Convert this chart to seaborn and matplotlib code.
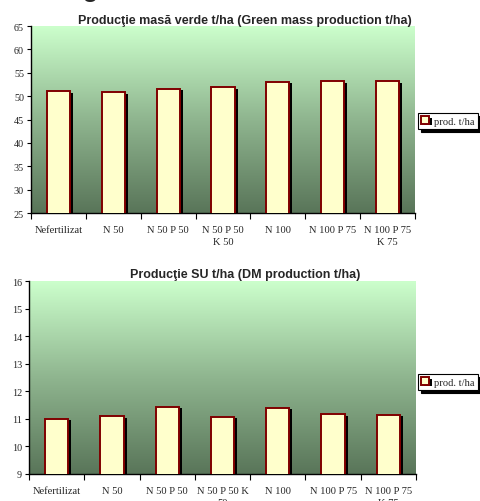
import numpy as np
import pandas as pd
import matplotlib
matplotlib.use("Agg")
import matplotlib.pyplot as plt
import matplotlib.patheffects as pe
from matplotlib.colors import LinearSegmentedColormap
import seaborn as sns

# Treatments (x categories) for each chart
treatments_gm = ["Nefertilizat", "N 50", "N 50 P 50", "N 50 P 50\nK 50",
                 "N 100", "N 100 P 75", "N 100 P 75\nK 75"]
treatments_dm = ["Nefertilizat", "N 50", "N 50 P 50", "N 50 P 50 K\n50",
                 "N 100", "N 100 P 75", "N 100 P 75\nK 75"]

# Green mass production, t/ha
green_mass = [51.0, 50.8, 51.6, 51.9, 53.0, 53.2, 53.2]
# Dry matter production, t/ha
dry_matter = [11.0, 11.1, 11.44, 11.07, 11.4, 11.17, 11.15]

title_gm = "Producţie masă verde t/ha (Green mass production t/ha)"
title_dm = "Producţie SU t/ha (DM production t/ha)"
series_name = "prod. t/ha"

sns.set_theme(style="white")
plt.rcParams["font.family"] = ["Liberation Serif", "DejaVu Serif"]

BAR_FACE = "#FFFFCC"
BAR_EDGE = "#800000"
bg_cmap = LinearSegmentedColormap.from_list(
    "bg", ["#597559", "#8fb58f", "#CCFFCC"])

fig = plt.figure(figsize=(4.8, 5.02), dpi=100)
fig.patch.set_facecolor("white")


def draw_panel(ax, labels, values, ylim, title, title_y, legend_y):
    df = pd.DataFrame({"treatment": labels, "value": values})
    # vertical gradient background
    grad = np.linspace(0, 1, 256).reshape(-1, 1)
    ax.imshow(grad, cmap=bg_cmap, origin="lower", aspect="auto",
              extent=[0, 1, 0, 1], transform=ax.transAxes, zorder=0)
    sns.barplot(data=df, x="treatment", y="value", ax=ax, color=BAR_FACE,
                saturation=1, width=0.42, edgecolor=BAR_EDGE, linewidth=1.4,
                label=series_name, zorder=3)
    for p in ax.patches:
        p.set_path_effects([
            pe.SimplePatchShadow(offset=(2.2, -1.0), shadow_rgbFace="black",
                                 alpha=1.0),
            pe.Normal()])
    ax.set_ylim(*ylim)
    ax.set_xlim(-0.5, len(labels) - 0.5)
    ax.set_yticks(np.arange(ylim[0], ylim[1] + 0.01, 5 if ylim[1] > 20 else 1))
    ax.tick_params(axis="y", which="major", direction="out", length=3,
                   width=0.8, color="black", pad=2, labelsize=7.3,
                   left=True)
    # tick marks between categories, labels centred under the bars
    n = len(labels)
    ax.set_xticks(np.arange(-0.5, n, 1.0))
    ax.set_xticklabels([])
    ax.set_xticks(np.arange(n), minor=True)
    ax.set_xticklabels(labels, minor=True, linespacing=1.5)
    ax.tick_params(axis="x", which="major", direction="out", length=4,
                   width=0.8, color="black", bottom=True)
    ax.tick_params(axis="x", which="minor", length=0, pad=8.5, labelsize=7.6)
    for side in ("top", "right"):
        ax.spines[side].set_visible(False)
    for side in ("left", "bottom"):
        ax.spines[side].set_color("black")
        ax.spines[side].set_linewidth(1.0)
    ax.set_xlabel("")
    ax.set_ylabel("")
    fig.text(245 / 480, title_y, title, ha="center", va="center",
             fontsize=9, fontweight="bold",
             family=["Liberation Sans", "DejaVu Sans"])
    leg = ax.legend(loc="center left", bbox_to_anchor=(418 / 480, legend_y),
                    bbox_transform=fig.transFigure, frameon=True,
                    fancybox=False, shadow={"color": "black", "alpha": 1.0},
                    fontsize=7.6, handlelength=0.75, handleheight=0.75,
                    handletextpad=0.45, borderpad=0.3, borderaxespad=0)
    leg.get_frame().set_edgecolor("black")
    leg.get_frame().set_linewidth(0.8)
    leg.get_frame().set_facecolor("white")


ax1 = fig.add_axes([31 / 480, 1 - 214 / 502, 384 / 480, 187 / 502])
draw_panel(ax1, treatments_gm, green_mass, (25, 65), title_gm,
           1 - 20.5 / 502, 1 - 122 / 502)

ax2 = fig.add_axes([29 / 480, 1 - 475 / 502, 387 / 480, 192.7 / 502])
draw_panel(ax2, treatments_dm, dry_matter, (9, 16), title_dm,
           1 - 275 / 502, 1 - 383 / 502)

# tail of a heading letter running in from above the figure
fig.text(90 / 480, 1 + 5.5 / 502, "g", ha="center", va="baseline",
         fontsize=22, family=["Liberation Sans", "DejaVu Sans"])

fig.savefig("out.png", dpi=100)
